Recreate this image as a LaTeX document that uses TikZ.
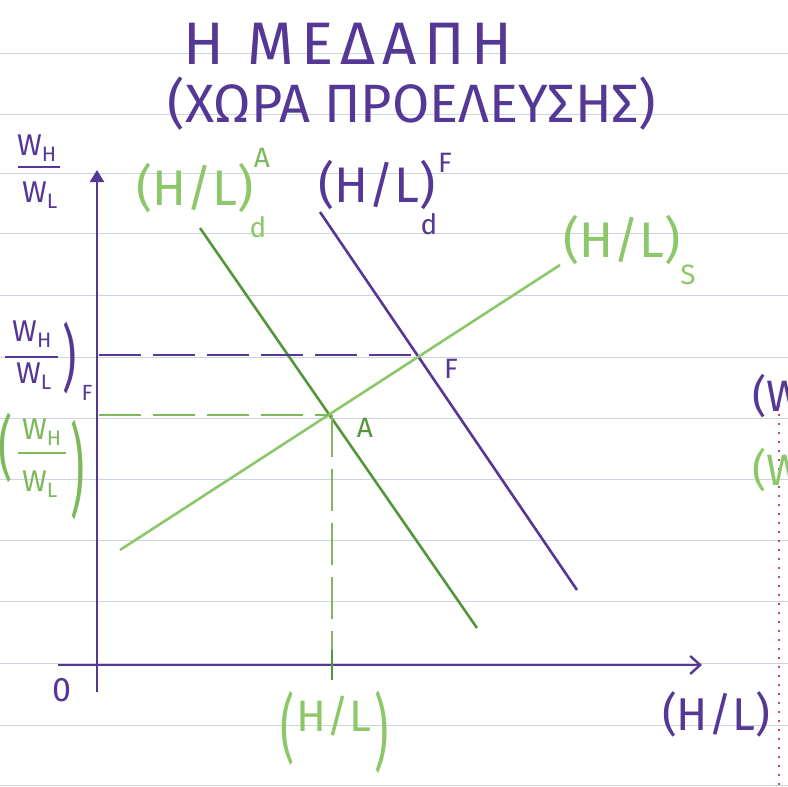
\documentclass[tikz,border=0pt]{standalone}
\usepackage{graphicx}
\usepackage{fontspec}
\setmainfont{Fira Sans}
\usetikzlibrary{arrows.meta}
\definecolor{purp}{RGB}{85,55,150}
\definecolor{gdark}{RGB}{85,150,60}
\definecolor{glight}{RGB}{140,200,105}
\definecolor{gmid}{RGB}{125,185,90}
\definecolor{rule}{RGB}{205,212,225}
\definecolor{marg}{RGB}{200,70,100}
\newcommand{\fs}[1]{\fontsize{#1}{#1}\selectfont}
\newcommand{\tallp}[2]{\scalebox{1}[#1]{#2}}
\tikzset{
  axisline/.style={draw=purp, line width=2.4pt},
  purline/.style={draw=purp, line width=2.6pt},
  gdline/.style={draw=gdark, line width=2.6pt},
  glline/.style={draw=glight, line width=2.6pt},
  purdash/.style={draw=purp, line width=2.4pt, dash pattern=on 42pt off 12pt},
  gdash/.style={draw=gmid, line width=2.4pt, dash pattern=on 42pt off 12pt},
  lbl/.style={inner sep=0pt},
  bar/.style={line width=2.2pt},
}
\begin{document}
\begin{tikzpicture}[x=1pt,y=-1pt]
\useasboundingbox (0,0) rectangle (788,787);
\fill[white] (0,0) rectangle (788,787);
% ruled paper
\foreach \yy in {53,114,173,233,295,357,418,479,540,601,663,725,785}
  \draw[rule, line width=0.8pt] (0,\yy) -- (788,\yy);
% margin line (right edge)
\draw[marg, line width=2pt, dash pattern=on 2pt off 7pt] (779,405) -- (779,787);
% title
\node[lbl, text=purp, font=\fs{60}\addfontfeature{LetterSpace=12}] (t1) at (348,44) {Η ΜΕΔΑΠΗ};
\node[lbl, text=purp, font=\fs{54}] (t2) at (412,104) {(ΧΩΡΑ ΠΡΟΕΛΕΥΣΗΣ)};
% axes
\coordinate (O) at (97,665);
\coordinate (ybot) at (97,692);
\coordinate (ytop) at (97,170);
\coordinate (xleft) at (58,665);
\coordinate (xright) at (702,665);
\draw[axisline, -{Triangle[length=12pt,width=14pt]}] (ybot) -- (ytop);
\draw[axisline, -{Straight Barb[length=10pt,width=18pt]}] (xleft) -- (xright);
% curves
\coordinate (dA1) at (200,228); \coordinate (dA2) at (477,628);
\coordinate (dF1) at (320,212); \coordinate (dF2) at (577,590);
\coordinate (s1) at (120,550);  \coordinate (s2) at (560,265);
\draw[gdline] (dA1) -- (dA2);
\draw[purline] (dF1) -- (dF2);
\draw[glline] (s1) -- (s2);
% equilibria
\coordinate (A) at (332,415);
\coordinate (F) at (418,355);
\coordinate (yA) at (99,415);
\coordinate (yF) at (99,355);
\coordinate (xA) at (332,665);
\draw[purdash] (yF) -- (F);
\draw[gdash] (yA) -- (A);
\draw[gdash] (A) -- (xA);
\coordinate (tk1) at (332,650); \coordinate (tk2) at (332,680);
\draw[gdline, line width=1.6pt] (tk1) -- (tk2);
% point labels
\node[lbl, text=purp, font=\fs{28}] (Flbl) at (451,369) {F};
\node[lbl, text=gdark, font=\fs{28}] (Albl) at (365,428) {A};
\node[lbl, text=purp, font=\fs{34}] (zero) at (62,690) {0};
% axis labels
\node[lbl, text=purp, font=\fs{46}] (xlbl) at (716,714) {(H/L)};
\node[lbl, text=glight, font=\fs{44}] (xAin) at (334,716) {H/L};
\node[lbl, text=glight, font=\fs{44}] (xAl) at (288,728) {\tallp{1.7}{(}};
\node[lbl, text=glight, font=\fs{44}] (xAr) at (382,732) {\tallp{1.9}{)}};
% y-axis label
\node[lbl, text=purp, font=\fs{30}] (ynum) at (37,148) {W\textsubscript{H}};
\coordinate (yb1) at (18,167); \coordinate (yb2) at (60,167);
\draw[purp, bar] (yb1) -- (yb2);
\node[lbl, text=purp, font=\fs{30}] (yden) at (40,195) {W\textsubscript{L}};
% (W_H/W_L)_F
\node[lbl, text=purp, font=\fs{30}] (fnum) at (32,334) {W\textsubscript{H}};
\coordinate (fb1) at (5,357); \coordinate (fb2) at (58,357);
\draw[purp, bar] (fb1) -- (fb2);
\node[lbl, text=purp, font=\fs{30}] (fden) at (34,376) {W\textsubscript{L}};
\node[lbl, text=purp, font=\fs{44}] (fpar) at (70,358) {\tallp{1.65}{)}};
\node[lbl, text=purp, font=\fs{22}] (fsub) at (87,393) {F};
% (W_H/W_L) green
\node[lbl, text=gmid, font=\fs{44}] (gl) at (6,448) {\tallp{1.6}{(}};
\node[lbl, text=gmid, font=\fs{30}] (gnum) at (42,432) {W\textsubscript{H}};
\coordinate (gb1) at (18,453); \coordinate (gb2) at (66,453);
\draw[gmid, bar] (gb1) -- (gb2);
\node[lbl, text=gmid, font=\fs{30}] (gden) at (40,484) {W\textsubscript{L}};
\node[lbl, text=gmid, font=\fs{44}] (gr) at (78,470) {\tallp{2.3}{)}};
% curve labels
\node[lbl, text=glight, font=\fs{50}] (dAl) at (195,188) {(H/L)};
\node[lbl, text=gmid, font=\fs{28}] (dAsup) at (262,158) {A};
\node[lbl, text=glight, font=\fs{28}] (dAsub) at (258,227) {d};
\node[lbl, text=purp, font=\fs{50}] (dFl) at (377,185) {(H/L)};
\node[lbl, text=purp, font=\fs{28}] (dFsup) at (445,163) {F};
\node[lbl, text=purp, font=\fs{28}] (dFsub) at (429,224) {d};
\node[lbl, text=glight, font=\fs{50}] (sl) at (622,240) {(H/L)};
\node[lbl, text=glight, font=\fs{28}] (ssub) at (688,275) {S};
% cut-off labels at right edge
\node[lbl, anchor=west, text=purp, font=\fs{44}] (cut1) at (752,396) {(W};
\node[lbl, anchor=west, text=glight, font=\fs{44}] (cut2) at (752,470) {(W};
\end{tikzpicture}
\end{document}
